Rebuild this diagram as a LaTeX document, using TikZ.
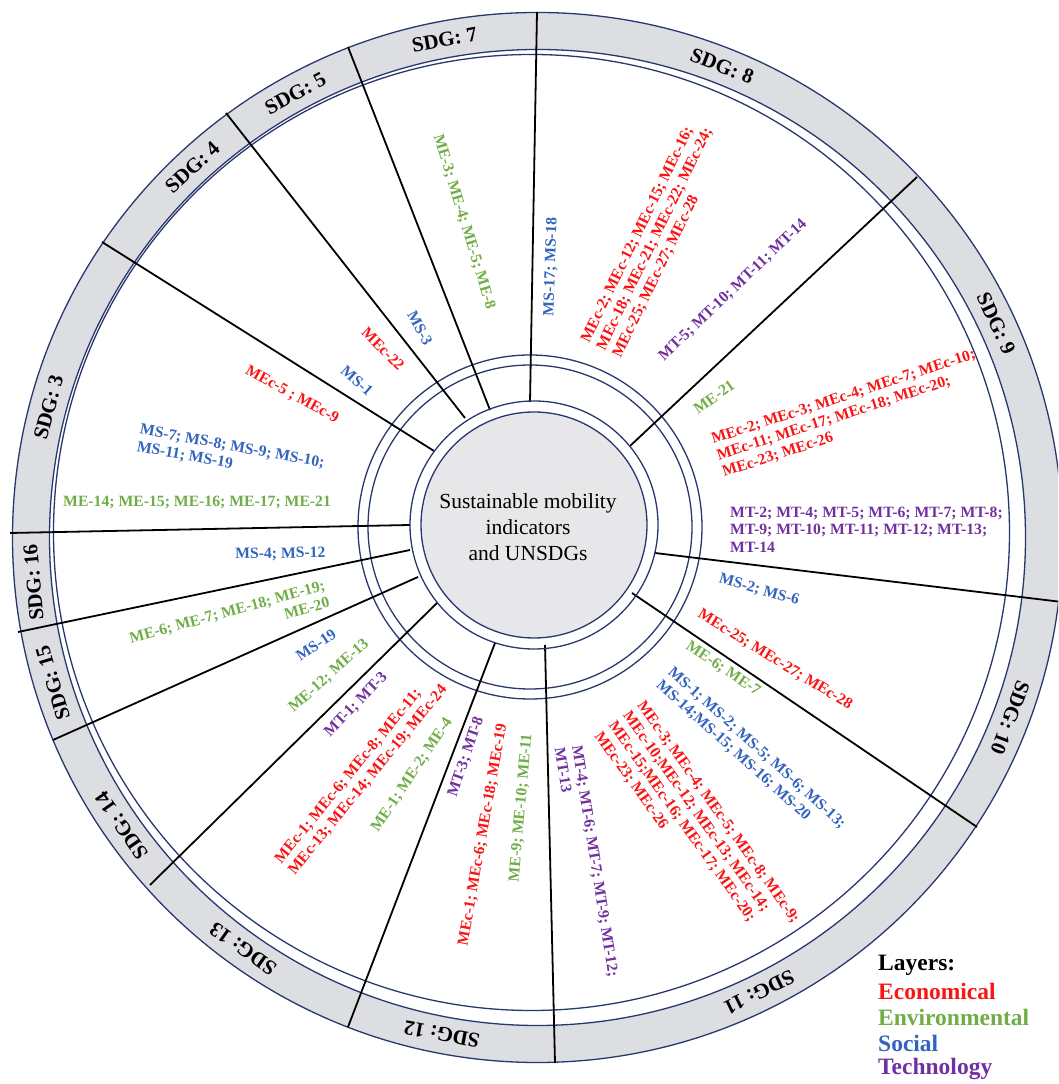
\documentclass[tikz,border=0pt]{standalone}
\usepackage{fontspec}
\setmainfont{Liberation Serif}
\usetikzlibrary{calc}
\definecolor{ringblue}{RGB}{40,55,110}
\definecolor{bandgray}{RGB}{221,222,226}
\definecolor{diskgray}{RGB}{231,231,234}
\definecolor{econ}{RGB}{250,20,20}
\definecolor{envi}{RGB}{112,173,71}
\definecolor{soci}{RGB}{50,100,190}
\definecolor{tech}{RGB}{112,48,160}
\begin{document}
\begin{tikzpicture}[x=1pt,y=1pt,
  ind/.style={font=\bfseries\fontsize{15.7}{17.5}\selectfont, inner sep=0pt, align=left},
  sdg/.style={font=\bfseries\fontsize{21}{24}\selectfont, inner sep=0pt},
  ring/.style={draw=ringblue, line width=1.3pt},
  spoke/.style={draw=black, line width=1.8pt},
  legend/.style={font=\bfseries\fontsize{23.5}{26}\selectfont, inner sep=0pt, anchor=west}]
\useasboundingbox (0,0) rectangle (1058,1084);
\begin{scope}
\clip (0,0) rectangle (1058,1084);
% outer SDG band
\coordinate (O) at (537.5,546.5);
\fill[bandgray, even odd rule] (O) circle[radius=525] (O) circle[radius=488];
\draw[ring] (O) circle[radius=525];
\draw[ring] (O) circle[radius=488];
\draw[ring] (531.5,551.5) circle[radius=478];
% inner double ring
\draw[ring] (530,557) circle[radius=172];
\draw[ring] (530,557) circle[radius=162];
% spokes between the SDG sectors
\coordinate (o1) at (537,1072);  \coordinate (i1) at (530,682);
\coordinate (o2) at (917,907);   \coordinate (i2) at (630,638);
\coordinate (o3) at (1062,482);  \coordinate (i3) at (655,531);
\coordinate (o4) at (977,257);   \coordinate (i4) at (632,491);
\coordinate (o5) at (555,21);    \coordinate (i5) at (545,439);
\coordinate (o6) at (348,57);    \coordinate (i6) at (495,441);
\coordinate (o7) at (150,199);   \coordinate (i7) at (437,481);
\coordinate (o8) at (53,344);    \coordinate (i8) at (418,507);
\coordinate (o9) at (18,452);    \coordinate (i9) at (410,534);
\coordinate (o10) at (10,551);   \coordinate (i10) at (410,559);
\coordinate (o11) at (102,842);  \coordinate (i11) at (434,633);
\coordinate (o12) at (226,971);  \coordinate (i12) at (465,666);
\coordinate (o13) at (348,1037); \coordinate (i13) at (490,674);
\foreach \k in {1,...,13} \draw[spoke] (i\k) -- (o\k);
% hub
\coordinate (H) at (534,559);
\draw[ring] (H) circle[radius=124];
\draw[ring, fill=diskgray] (H) circle[radius=113];
\end{scope}
\node[font=\fontsize{21.5}{26}\selectfont, align=center, inner sep=0pt] (hub) at (528,557)
  {Sustainable mobility\\indicators\\and UNSDGs};
% SDG labels in the band
\foreach \a/\n in {100.6/7, 68.6/8, 25/9, -20.9/10, -64/11, -100.9/12, -125.6/13,
                   -145.3/14, 196.7/15, 185.1/16, 165.1/3, 133/4, 118.6/5}
  \node[sdg, rotate=\a-90] (sdg\n) at ($(O)+(\a:506)$) {SDG: \n};
% SDG 8
\node[ind, soci, rotate=88] (s8s) at (551,817) {MS-17; MS-18};
\node[ind, econ, rotate=64] (s8e) at (655,845)
  {MEc-2; MEc-12; MEc-15; MEc-16;\\MEc-18; MEc-21; MEc-22; MEc-24;\\MEc-25; MEc-27; MEc-28};
% SDG 7, 5, 4
\node[ind, envi, rotate=-73] (s7v) at (464,862) {ME-3; ME-4; ME-5; ME-8};
\node[ind, soci, rotate=-62] (s5s) at (420,756) {MS-3};
\node[ind, econ, rotate=-45] (s4e) at (383,735) {MEc-22};
% SDG 3
\node[ind, soci, rotate=-41] (s3s1) at (357,703) {MS-1};
\node[ind, econ, rotate=-29] (s3e) at (292,689) {MEc-5 ; MEc-9};
\node[ind, soci, rotate=-10.4, anchor=west] (s3s2) at (138.4,645.4)
  {MS-7; MS-8; MS-9; MS-10;\\MS-11; MS-19};
\node[ind, envi, anchor=west] (s3v) at (63,581) {ME-14; ME-15; ME-16; ME-17; ME-21};
% SDG 16, 15, 14
\node[ind, soci, rotate=1, anchor=west] (s16s) at (235,529) {MS-4; MS-12};
\node[ind, envi, rotate=15.4, anchor=east, align=right] (s15v) at (327,490.6)
  {ME-6; ME-7; ME-18; ME-19;\\ME-20};
\node[ind, soci, rotate=34] (s14s) at (316,439) {MS-19};
\node[ind, envi, rotate=42] (s14v) at (329,408) {ME-12; ME-13};
% SDG 13
\node[ind, tech, rotate=46] (s13t) at (356,379) {MT-1; MT-3};
\node[ind, econ, rotate=50.6, anchor=west] (s13e) at (284.8,216.4)
  {MEc-1; MEc-6; MEc-8; MEc-11;\\MEc-13; MEc-14; MEc-19; MEc-24};
\node[ind, envi, rotate=56] (s13v) at (412,309) {ME-1; ME-2; ME-4};
% SDG 12
\node[ind, tech, rotate=71] (s12t) at (466,327) {MT-3; MT-8};
\node[ind, econ, rotate=80] (s12e) at (483,249) {MEc-1; MEc-6; MEc-18; MEc-19};
\node[ind, envi, rotate=85] (s12v) at (521,276) {ME-9; ME-10; ME-11};
% SDG 11
\node[ind, envi, rotate=-34] (s11v) at (723,415) {ME-6; ME-7};
\node[ind, soci, rotate=-42, anchor=west] (s11s) at (664.1,407.5)
  {MS-1; MS-2; MS-5; MS-6; MS-13;\\MS-14;MS-15; MS-16; MS-20};
\node[ind, econ, rotate=-54.5, anchor=west] (s11e) at (618.6,365.7)
  {MEc-3; MEc-4; MEc-5; MEc-8; MEc-9;\\MEc-10;MEc-12; MEc-13; MEc-14;\\MEc-15;MEc-16; MEc-17; MEc-20;\\MEc-23; MEc-26};
\node[ind, tech, rotate=-81, anchor=west] (s11t) at (568.4,337.6)
  {MT-4; MT-6; MT-7; MT-9; MT-12;\\MT-13};
% SDG 10
\node[ind, soci, rotate=-15.7] (s10s) at (759,494) {MS-2; MS-6};
\node[ind, econ, rotate=-31.5] (s10e) at (775,424) {MEc-25; MEc-27; MEc-28};
% SDG 9
\node[ind, tech, rotate=43.6] (s9t1) at (733,794) {MT-5; MT-10; MT-11; MT-14};
\node[ind, envi, rotate=35] (s9v) at (714,687) {ME-21};
\node[ind, econ, rotate=18, anchor=west] (s9e) at (717.4,627.4)
  {MEc-2; MEc-3; MEc-4; MEc-7; MEc-10;\\MEc-11; MEc-17; MEc-18; MEc-20;\\MEc-23; MEc-26};
\node[ind, tech, anchor=west] (s9t2) at (730,554.5)
  {MT-2; MT-4; MT-5; MT-6; MT-7; MT-8;\\MT-9; MT-10; MT-11; MT-12; MT-13;\\MT-14};
% legend
\node[legend] (lg0) at (878,119) {Layers:};
\node[legend, econ] (lg1) at (878,93) {Economical};
\node[legend, envi] (lg2) at (878,67) {Environmental};
\node[legend, soci] (lg3) at (878,41) {Social};
\node[legend, tech] (lg4) at (878,15) {Technology};
\end{tikzpicture}
\end{document}
